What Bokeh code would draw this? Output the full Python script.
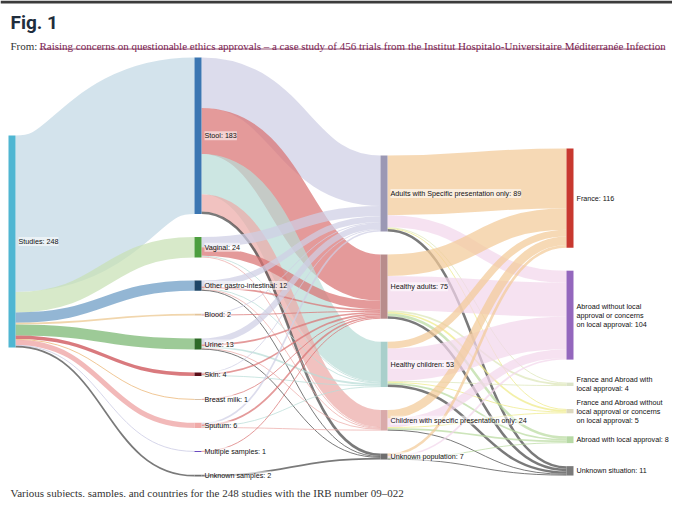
from bokeh.plotting import figure
from bokeh.models import Range1d
from bokeh.embed import file_html
from bokeh.resources import INLINE
from bokeh.core.properties import value

# ---------------- data ----------------
node_names = [
    "Studies",
    "Stool", "Vaginal", "Other gastro-intestinal", "Blood", "Urine", "Skin",
    "Breast milk", "Sputum", "Multiple samples", "Unknown samples",
    "Adults with Specific presentation only", "Healthy adults", "Healthy children",
    "Children with specific presentation only", "Unknown population",
    "France", "Abroad without local approval or concerns on local approval",
    "France and Abroad with local approval",
    "France and Abroad without local approval or concerns on local approval",
    "Abroad with local approval", "Unknown situation",
]
node_labels = [
    "Studies",
    "Stool", "Vaginal", "Other gastro-intestinal", "Blood", "Urine", "Skin",
    "Breast milk", "Sputum", "Multiple samples", "Unknown samples",
    "Adults with Specific presentation only", "Healthy adults", "Healthy children",
    "Children with specific presentation only", "Unknown population",
    "France", "Abroad without local\napproval or concerns\non local approval",
    "France and Abroad with\nlocal approval",
    "France and Abroad without\nlocal approval or concerns\non local approval",
    "Abroad with local approval", "Unknown situation",
]

# Studies -> samples
samples = ["Stool", "Vaginal", "Other gastro-intestinal", "Blood", "Urine", "Skin",
           "Breast milk", "Sputum", "Multiple samples", "Unknown samples"]
sample_counts = [183, 24, 12, 2, 13, 4, 1, 6, 1, 2]

# samples -> population
pop_source = ["Stool", "Stool", "Stool", "Stool", "Stool",
              "Vaginal", "Vaginal", "Vaginal", "Vaginal",
              "Other gastro-intestinal", "Other gastro-intestinal", "Other gastro-intestinal",
              "Other gastro-intestinal", "Other gastro-intestinal",
              "Blood", "Blood",
              "Urine", "Urine", "Urine", "Urine", "Urine",
              "Skin", "Skin", "Skin",
              "Breast milk",
              "Sputum", "Sputum", "Sputum", "Sputum",
              "Multiple samples",
              "Unknown samples"]
pop_target = ["Adults with Specific presentation only", "Healthy adults", "Healthy children",
              "Children with specific presentation only", "Unknown population",
              "Adults with Specific presentation only", "Healthy adults", "Healthy children",
              "Children with specific presentation only",
              "Adults with Specific presentation only", "Healthy adults", "Healthy children",
              "Children with specific presentation only", "Unknown population",
              "Adults with Specific presentation only", "Healthy adults",
              "Adults with Specific presentation only", "Healthy adults", "Healthy children",
              "Children with specific presentation only", "Unknown population",
              "Adults with Specific presentation only", "Healthy adults", "Healthy children",
              "Healthy adults",
              "Adults with Specific presentation only", "Healthy adults", "Healthy children",
              "Children with specific presentation only",
              "Healthy adults",
              "Unknown population"]
pop_values = [59, 54, 47, 20, 3,
              12, 10, 1, 1,
              7, 2, 1, 1, 1,
              1, 1,
              7, 2, 2, 1, 1,
              1, 2, 1,
              1,
              2, 2, 1, 1,
              1,
              2]

# population -> country situation
populations = ["Adults with Specific presentation only", "Healthy adults", "Healthy children",
               "Children with specific presentation only", "Unknown population"]
situations = ["France", "Abroad without local approval or concerns on local approval",
              "France and Abroad with local approval",
              "France and Abroad without local approval or concerns on local approval",
              "Abroad with local approval", "Unknown situation"]
situation_matrix = [
    [70, 14, 1, 1, 0, 3],
    [25, 40, 2, 2, 3, 3],
    [8, 38, 1, 1, 2, 3],
    [10, 10, 0, 1, 2, 1],
    [3, 2, 0, 0, 1, 1],
]

# ---------------- styles ----------------
node_colors = {
    "Studies": "#4fb6d2", "Stool": "#3b76b2", "Vaginal": "#4c9e3f",
    "Other gastro-intestinal": "#1d4566", "Blood": "#e3c49a", "Urine": "#2d6a27",
    "Skin": "#5c0d18", "Breast milk": "#d8c2a8", "Sputum": "#f0aaa8",
    "Multiple samples": "#6a4ac0", "Unknown samples": "#6f6f6f",
    "Adults with Specific presentation only": "#9b98b4", "Healthy adults": "#b88c8c",
    "Healthy children": "#a9cfcb", "Children with specific presentation only": "#d9aaaa",
    "Unknown population": "#6e6e6e",
    "France": "#c8382f",
    "Abroad without local approval or concerns on local approval": "#9467bd",
    "France and Abroad with local approval": "#dbe3c8",
    "France and Abroad without local approval or concerns on local approval": "#ddd8bf",
    "Abroad with local approval": "#b7d9a5", "Unknown situation": "#7a7a7a",
}
link_colors = {  # apparent colour on white, by target node
    "Stool": "#d3e3ec", "Vaginal": "#d7e9c9", "Other gastro-intestinal": "#93b6d4",
    "Blood": "#f1d6ae", "Urine": "#9dca97", "Skin": "#d97a7e", "Breast milk": "#f0c796",
    "Sputum": "#f2b9b9", "Multiple samples": "#d6d6ea", "Unknown samples": "#7a7a7a",
    "Adults with Specific presentation only": "#dcdcec", "Healthy adults": "#e49a9a",
    "Healthy children": "#cce6e2", "Children with specific presentation only": "#f1c2c0",
    "Unknown population": "#7a7a7a",
    "France": "#f6d9b5",
    "Abroad without local approval or concerns on local approval": "#f6e2f1",
    "France and Abroad with local approval": "#e6edcc",
    "France and Abroad without local approval or concerns on local approval": "#f3f0a8",
    "Abroad with local approval": "#cde5bb", "Unknown situation": "#7a7a7a",
}
LINK_ALPHA = 0.72

def base_color(hexc, a):
    h = hexc.lstrip("#")
    rgb = [int(h[i:i + 2], 16) for i in (0, 2, 4)]
    out = [max(0, min(255, round((c - (1 - a) * 255) / a))) for c in rgb]
    return "#%02x%02x%02x" % tuple(out)

# ---------------- links ----------------
links = []
for s, v in zip(samples, sample_counts):
    links.append(("Studies", s, v))
for s, t, v in zip(pop_source, pop_target, pop_values):
    links.append((s, t, v))
for i, s in enumerate(populations):
    for j, t in enumerate(situations):
        if situation_matrix[i][j] > 0:
            links.append((s, t, situation_matrix[i][j]))

# ---------------- layout (d3-sankey style) ----------------
depth = {n: 0 for n in node_names}
for _ in range(len(node_names)):
    for s, t, v in links:
        depth[t] = max(depth[t], depth[s] + 1)
inflow = {n: 0 for n in node_names}
outflow = {n: 0 for n in node_names}
for s, t, v in links:
    outflow[s] += v
    inflow[t] += v
nval = {n: max(inflow[n], outflow[n]) for n in node_names}

K = 0.855          # px per study
PAD = 23           # node padding
NODE_W = 7
X_LEFT, X_RIGHT = 8, 573
col_top = [135, 57, 155, 148]
ncol = max(depth.values()) + 1
col_step = (X_RIGHT - X_LEFT - NODE_W) / (ncol - 1)

nx0, ny0, ny1 = {}, {}, {}
for c in range(ncol):
    y = col_top[c]
    for n in node_names:
        if depth[n] == c:
            nx0[n] = X_LEFT + c * col_step
            ny0[n] = y
            ny1[n] = y + nval[n] * K
            y = ny1[n] + PAD

lsy, lty = {}, {}
for n in node_names:
    outs = sorted([i for i, l in enumerate(links) if l[0] == n], key=lambda i: ny0[links[i][1]])
    y = ny0[n]
    for i in outs:
        lsy[i] = y
        y += links[i][2] * K
    ins = sorted([i for i, l in enumerate(links) if l[1] == n], key=lambda i: ny0[links[i][0]])
    y = ny0[n]
    for i in ins:
        lty[i] = y
        y += links[i][2] * K

# ---------------- figure ----------------
W, H = 672, 497
p = figure(width=W, height=H, output_backend="svg", toolbar_location=None,
           x_range=Range1d(0, W), y_range=Range1d(H, 0),
           min_border=0, min_border_left=0, min_border_right=0,
           min_border_top=0, min_border_bottom=0)
p.axis.visible = False
p.grid.visible = False
p.outline_line_color = None
p.background_fill_color = "white"
p.border_fill_color = "white"

# dark strip at the very top of the page image
p.quad(left=[0], right=[W], top=[0], bottom=[3], fill_color="#3b3b3b", line_color=None)

bx0, by0, bx1, by1, bcx, bw, bc = [], [], [], [], [], [], []
for i, (s, t, v) in enumerate(links):
    w = v * K
    x0 = nx0[s] + NODE_W
    x1 = nx0[t]
    bx0.append(x0)
    bx1.append(x1)
    bcx.append((x0 + x1) / 2)
    by0.append(lsy[i] + w / 2)
    by1.append(lty[i] + w / 2)
    bw.append(max(1.0, w))
    bc.append(base_color(link_colors[t], LINK_ALPHA))

p.bezier(x0=bx0, y0=by0, x1=bx1, y1=by1, cx0=bcx, cy0=by0, cx1=bcx, cy1=by1,
         line_color=bc, line_width=bw, line_alpha=LINK_ALPHA)

p.quad(left=[nx0[n] for n in node_names], right=[nx0[n] + NODE_W for n in node_names],
       top=[ny0[n] for n in node_names], bottom=[max(ny1[n], ny0[n] + 1) for n in node_names],
       fill_color=[node_colors[n] for n in node_names], line_color=None)

lab = [f"{node_labels[i]}: {nval[n]}" for i, n in enumerate(node_names)]
p.text(x=[nx0[n] + NODE_W + 3 for n in node_names],
       y=[(ny0[n] + ny1[n]) / 2 for n in node_names],
       text=lab, text_font=value("Liberation Sans"), text_font_size="7.2px",
       text_color="#111111", text_align="left", text_baseline="middle",
       text_line_height=1.0,
       background_fill_color="white", background_fill_alpha=0.55)

# header and caption
p.text(x=[10], y=[22], text=["Fig. 1"], text_font=value("Roboto"), text_font_style="bold",
       text_font_size="19px", text_color="#1f2d3d", text_align="left", text_baseline="alphabetic")
p.text(x=[10], y=[45], text=["From:"], text_font=value("Liberation Serif"),
       text_font_size="11px", text_color="#333333", text_baseline="alphabetic")
p.text(x=[39], y=[45], text=["Raising concerns on questionable ethics approvals \u2013 a case study of 456 trials from the Institut Hospitalo-Universitaire M\u00e9diterran\u00e9e Infection"],
       text_font=value("Liberation Serif"), text_font_size="11px", text_color="#7a2350",
       text_baseline="alphabetic")
p.segment(x0=[39], y0=[48.5], x1=[664], y1=[48.5], line_color="#7a2350", line_width=0.8)
p.text(x=[10], y=[492], text=["Various subjects, samples, and countries for the 248 studies with the IRB number 09\u2013022"],
       text_font=value("Liberation Serif"), text_font_size="11px", text_color="#333333",
       text_baseline="alphabetic")

open("out.html", "w").write(file_html(p, INLINE))
